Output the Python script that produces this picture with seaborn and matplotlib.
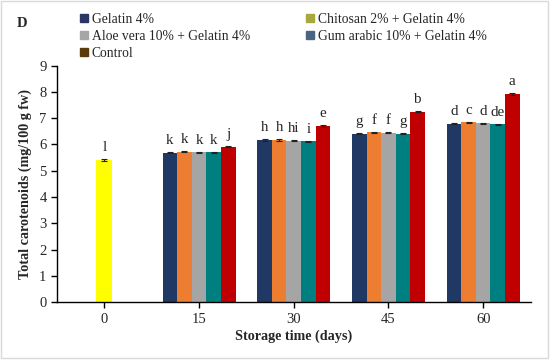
import pandas as pd
import matplotlib.pyplot as plt
import seaborn as sns
from matplotlib.lines import Line2D
from matplotlib.patches import Rectangle

days = ["0", "15", "30", "45", "60"]
treat_days = ["15", "30", "45", "60"]
treatments = ["Gelatin 4%", "Chitosan 2% + Gelatin 4%", "Aloe vera 10% + Gelatin 4%",
              "Gum arabic 10% + Gelatin 4%", "Control"]

day0_value = 5.41
day0_sd = 0.02
day0_letter = "l"

gelatin = [5.68, 6.17, 6.40, 6.78]
chitosan = [5.72, 6.17, 6.46, 6.84]
aloe = [5.70, 6.15, 6.45, 6.80]
gum = [5.70, 6.13, 6.40, 6.77]
control = [5.92, 6.71, 7.25, 7.92]

gelatin_sd = [0.02, 0.02, 0.02, 0.02]
chitosan_sd = [0.02, 0.02, 0.02, 0.03]
aloe_sd = [0.02, 0.02, 0.02, 0.02]
gum_sd = [0.02, 0.02, 0.02, 0.02]
control_sd = [0.03, 0.03, 0.02, 0.03]

gelatin_let = ["k", "h", "g", "d"]
chitosan_let = ["k", "h", "f", "c"]
aloe_let = ["k", "hi", "f", "d"]
gum_let = ["k", "i", "g", "de"]
control_let = ["j", "e", "b", "a"]

bar_colors = ["#203864", "#ED7D31", "#A5A5A5", "#007F80", "#C00000"]
legend_colors = ["#2B3566", "#A8A83C", "#A6A6A6", "#4A6584", "#5C3A0C"]

values = [gelatin, chitosan, aloe, gum, control]
sds = [gelatin_sd, chitosan_sd, aloe_sd, gum_sd, control_sd]
letters = [gelatin_let, chitosan_let, aloe_let, gum_let, control_let]

rows = []
for t, vals in zip(treatments, values):
    for d, v in zip(treat_days, vals):
        rows.append({"day": d, "treatment": t, "value": v})
df = pd.DataFrame(rows)
df0 = pd.DataFrame({"day": ["0"], "value": [day0_value]})

sns.set_style("ticks")
plt.rcParams["font.family"] = ["Liberation Serif", "DejaVu Serif"]

fig = plt.figure(figsize=(5.5, 3.6), dpi=100)
ax = fig.add_axes([0.1036, 0.160, 0.861, 0.658])

sns.barplot(data=df0, x="day", y="value", order=days, color="#FFFF00",
            width=0.17, saturation=1, linewidth=0, ax=ax)
sns.barplot(data=df, x="day", y="value", hue="treatment", order=days,
            hue_order=treatments, palette=bar_colors, width=0.77,
            saturation=1, linewidth=0, legend=False, ax=ax)

conts = ax.containers
all_vals = [[day0_value]] + values
all_sds = [[day0_sd]] + sds
all_lets = [[day0_letter]] + letters
for c, v, s, l in zip(conts, all_vals, all_sds, all_lets):
    xs = [p.get_x() + p.get_width() / 2 for p in c.patches]
    ax.errorbar(xs, v, yerr=s, fmt="none", ecolor="#222222", elinewidth=0.8,
                capsize=2.5, capthick=0.8)
    ax.bar_label(c, labels=l, padding=4, fontsize=10.8)

ax.set_ylim(0, 9)
ax.set_xlim(-0.5, 4.5)
ax.set_yticks(range(0, 10))
ax.tick_params(labelsize=10.5, length=4, width=1, direction="out", color="black")
ax.set_xlabel("Storage time (days)", fontsize=10.2, fontweight="bold", labelpad=3)
ax.set_ylabel("Total carotenoids (mg/100 g fw)", fontsize=10.2, fontweight="bold", labelpad=5)
for side in ["top", "right"]:
    ax.spines[side].set_visible(False)
for side in ["left", "bottom"]:
    ax.spines[side].set_linewidth(1)
    ax.spines[side].set_color("black")

handles = [Line2D([], [], marker="s", linestyle="none", markersize=5.5,
                  markerfacecolor=c, markeredgecolor=c) for c in legend_colors]
order = [0, 2, 4, 1, 3]
fig.legend([handles[i] for i in order], [treatments[i] for i in order],
           loc="upper left", bbox_to_anchor=(0.125, 0.995), ncol=2, frameon=False,
           fontsize=9.8, handlelength=0.6, handletextpad=0.3, columnspacing=4.1,
           labelspacing=0.3, borderaxespad=0.4)

fig.text(0.03, 0.936, "D", fontsize=10.5, fontweight="bold", va="center")
fig.patches.append(Rectangle((0.002, 0.006), 0.995, 0.99, transform=fig.transFigure,
                             fill=False, edgecolor="#D9D9D9", linewidth=1))

fig.savefig("out.png", dpi=100)
